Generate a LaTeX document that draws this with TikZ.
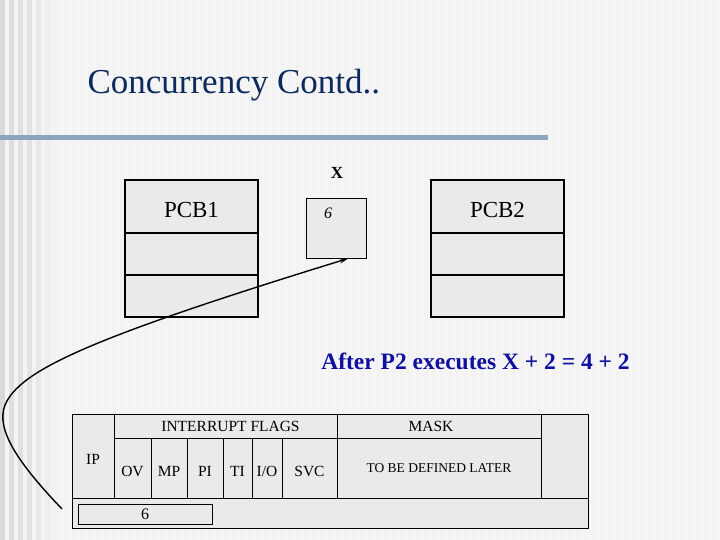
\documentclass[tikz,border=0pt]{standalone}
\usepackage{fontspec}
\setmainfont{Liberation Serif}
\usepackage{tikz}
\usetikzlibrary{arrows.meta, positioning, calc}
\definecolor{titlenavy}{RGB}{12, 42, 92}
\definecolor{barblue}{RGB}{142, 163, 189}
\definecolor{textblue}{RGB}{16, 16, 160}
\definecolor{cellgray}{RGB}{234, 234, 234}
\definecolor{slidegray}{RGB}{243, 243, 243}

\begin{document}
\begin{tikzpicture}[x=1pt, y=-1pt,
    pcb/.style={rectangle, draw=black, line width=1.5pt, fill=cellgray,
                minimum width=133pt, inner sep=0pt, font=\rmfamily\fontsize{23}{26}\selectfont},
    cell/.style={rectangle, draw=black, line width=0.8pt, fill=cellgray,
                 inner sep=0pt, font=\rmfamily\fontsize{15.5}{17}\selectfont},
    low/.style={text height=16pt, text depth=0pt},
    link/.style={-{Stealth[length=9pt, width=5pt]}, line width=1.4pt},
    stripe/.style={fill=black!4}
]
\useasboundingbox (0,0) rectangle (720,540);

%% slide background
\fill[slidegray] (0,0) rectangle (720,540);
\foreach \i in {60,68,...,716} \fill[stripe] (\i,0) rectangle ++(4,540);
\foreach \i/\s in {0/15,9/13,18/12,27/11,36/9,45/7} \fill[black!\s] (\i,0) rectangle ++(5,540);

%% title
\node[font=\rmfamily\fontsize{35}{40}\selectfont, text=titlenavy, anchor=west] (title) at (84,85) {Concurrency Contd..};
\fill[barblue] (0,135) rectangle (548,140);

%% process control blocks
\node[pcb, minimum height=53pt, text height=23pt, text depth=0pt] (pcb1a) at (191.5,206.5) {PCB1};
\node[pcb, minimum height=42pt] (pcb1b) at (191.5,254) {};
\node[pcb, minimum height=42pt] (pcb1c) at (191.5,296) {};

\node[pcb, minimum height=53pt, text height=23pt, text depth=0pt] (pcb2a) at (497.5,206.5) {PCB2};
\node[pcb, minimum height=42pt] (pcb2b) at (497.5,254) {};
\node[pcb, minimum height=42pt] (pcb2c) at (497.5,296) {};

%% shared variable X
\node[cell, minimum width=60pt, minimum height=60pt] (xbox) at (336,228) {};
\node[font=\rmfamily\fontsize{17}{19}\selectfont\bfseries] (xname) at (337,173) {X};
\node[font=\rmfamily\fontsize{16}{18}\selectfont\itshape] (xval) at (328,213) {6};

%% caption
\node[font=\rmfamily\fontsize{23.5}{26}\selectfont\bfseries, text=textblue] (after) at (475.5,361) {After P2 executes X + 2 = 4 + 2};

%% status word
\node[cell, low, minimum width=42pt, minimum height=84pt] (ip) at (93,456) {IP};
\node[cell, minimum width=223pt, minimum height=24pt] (flags) at (225.5,426) {\hspace*{10pt}INTERRUPT FLAGS};
\node[cell, low, minimum width=37pt, minimum height=60pt] (ov) at (132.5,468) {OV};
\node[cell, low, minimum width=36pt, minimum height=60pt] (mp) at (169,468) {MP};
\node[cell, low, minimum width=36pt, minimum height=60pt] (pi) at (205,468) {PI};
\node[cell, low, minimum width=29pt, minimum height=60pt] (ti) at (237.5,468) {TI};
\node[cell, low, minimum width=30pt, minimum height=60pt] (io) at (267,468) {I/O};
\node[cell, low, minimum width=55pt, minimum height=60pt] (svc) at (309.5,468) {SVC};
\node[cell, minimum width=204pt, minimum height=24pt] (mask) at (439,426) {MASK\hspace*{16pt}};
\node[cell, minimum width=204pt, minimum height=60pt, font=\rmfamily\fontsize{13.5}{15}\selectfont] (maskbody) at (439,468) {TO BE DEFINED LATER};
\node[cell, minimum width=47pt, minimum height=84pt] (spare) at (564.5,456) {};
\node[cell, minimum width=516pt, minimum height=30pt] (bottom) at (330,513) {};
\node[cell, minimum width=134pt, minimum height=20pt, font=\rmfamily\fontsize{16}{18}\selectfont] (ipval) at (145,514) {6};

%% pointer from IP to X
\coordinate (from) at (62,509);
\draw[link] (from) .. controls (20,465) and (-5,430) .. (5,405)
    .. controls (20,370) and (90,338) .. ($(xbox.south east)+(-18,0)$);

\end{tikzpicture}
\end{document}
